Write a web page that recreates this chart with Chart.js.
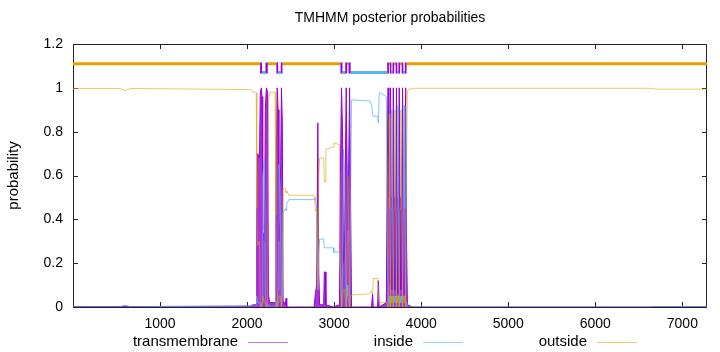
<!DOCTYPE html>
<html>
<head>
<meta charset="utf-8">
<script src="https://cdn.jsdelivr.net/npm/chart.js@4.4.1/dist/chart.umd.min.js"></script>
<style>
  html, body { margin: 0; padding: 0; background: #fff; }
  #wrap { width: 720px; height: 352px; }
</style>
</head>
<body>
<div id="wrap"><canvas id="ctx" width="720" height="352"></canvas></div>
<script>
// posterior probabilities (residue position -> prob)
const residue = [
  1, 540, 600, 660, 2040, 2052, 2105, 2112, 2122, 2143,
  2152, 2165, 2172, 2180, 2200, 2210, 2222, 2236, 2246, 2258,
  2322, 2332, 2346, 2357, 2366, 2380, 2395, 2405, 2414, 2440,
  2448, 2456, 2480, 2770, 2785, 2800, 2813, 2824, 2834, 2880,
  2888, 2898, 2906, 2990, 2998, 3062, 3072, 3085, 3097, 3108,
  3120, 3139, 3150, 3158, 3178, 3190, 3200, 3410, 3430, 3442,
  3450, 3500, 3508, 3518, 3600, 3610, 3620, 3629, 3634, 3640,
  3648, 3656, 3664, 3672, 3680, 3689, 3698, 3707, 3716, 3724,
  3732, 3740, 3748, 3757, 3767, 3776, 3786, 3795, 3804, 3812,
  3822, 3832, 3842, 3900, 6640, 6700, 7283
];
const transmembrane = [
  0.002, 0.002, 0.004, 0.002, 0.004, 0.008, 0.012, 0.50, 0.70, 0.68,
  0.98, 1.00, 0.96, 0.35, 0.30, 0.90, 1.00, 0.98, 0.06, 0.02,
  0.02, 0.55, 1.00, 0.90, 0.30, 0.40, 1.00, 0.85, 0.03, 0.01,
  0.04, 0.00, 0.00, 0.00, 0.06, 0.10, 0.84, 0.15, 0.01, 0.01,
  0.16, 0.16, 0.01, 0.00, 0.00, 0.01, 0.60, 1.00, 0.80, 0.20,
  0.30, 1.00, 0.60, 0.35, 1.00, 0.45, 0.00, 0.00, 0.00, 0.06,
  0.00, 0.00, 0.12, 0.00, 0.02, 0.60, 1.00, 0.50, 0.10, 0.50,
  1.00, 0.50, 0.08, 0.50, 1.00, 0.50, 0.08, 0.50, 1.00, 0.50,
  0.06, 0.50, 1.00, 0.50, 0.08, 0.50, 1.00, 0.50, 0.06, 0.50,
  1.00, 0.30, 0.01, 0.00, 0.00, 0.002, 0.002
];
const inside = [
  0.001, 0.001, 0.008, 0.001, 0.004, 0.008, 0.010, 0.05, 0.02, 0.02,
  0.01, 0.00, 0.02, 0.60, 0.68, 0.08, 0.00, 0.01, 0.01, 0.00,
  0.00, 0.03, 0.00, 0.08, 0.65, 0.55, 0.00, 0.05, 0.43, 0.45,
  0.44, 0.47, 0.49, 0.49, 0.50, 0.45, 0.08, 0.25, 0.31, 0.31,
  0.27, 0.27, 0.27, 0.27, 0.25, 0.25, 0.15, 0.00, 0.15, 0.72,
  0.62, 0.00, 0.10, 0.05, 0.00, 0.50, 0.945, 0.94, 0.925, 0.88,
  0.87, 0.87, 0.84, 0.98, 0.96, 0.38, 0.00, 0.05, 0.02, 0.05,
  0.00, 0.45, 0.90, 0.45, 0.00, 0.05, 0.02, 0.05, 0.00, 0.45,
  0.92, 0.45, 0.00, 0.05, 0.02, 0.05, 0.00, 0.45, 0.92, 0.45,
  0.00, 0.02, 0.00, 0.00, 0.00, 0.002, 0.002
];
const outside = [
  0.997, 0.997, 0.988, 0.997, 0.992, 0.984, 0.978, 0.45, 0.28, 0.30,
  0.01, 0.00, 0.02, 0.05, 0.02, 0.02, 0.00, 0.01, 0.93, 0.98,
  0.98, 0.42, 0.00, 0.02, 0.05, 0.05, 0.00, 0.10, 0.54, 0.54,
  0.52, 0.53, 0.51, 0.51, 0.44, 0.45, 0.08, 0.60, 0.68, 0.68,
  0.57, 0.57, 0.72, 0.73, 0.75, 0.74, 0.25, 0.00, 0.05, 0.08,
  0.08, 0.00, 0.30, 0.60, 0.00, 0.05, 0.055, 0.06, 0.075, 0.06,
  0.13, 0.13, 0.04, 0.02, 0.02, 0.02, 0.00, 0.45, 0.88, 0.45,
  0.00, 0.05, 0.02, 0.05, 0.00, 0.45, 0.90, 0.45, 0.00, 0.05,
  0.02, 0.05, 0.00, 0.45, 0.90, 0.45, 0.00, 0.05, 0.02, 0.05,
  0.00, 0.68, 0.99, 0.998, 0.998, 0.994, 0.994
];

// predicted topology (segments)
const tmStart = [2150, 2212, 2337, 2387, 3073, 3128, 3166, 3610, 3640, 3671, 3707, 3739, 3776, 3813];
const tmEnd   = [2172, 2238, 2357, 2407, 3096, 3150, 3190, 3630, 3658, 3690, 3726, 3758, 3796, 3832];
const inStart = [2172, 2357, 3096, 3190, 3658, 3726, 3796];
const inEnd   = [2212, 2387, 3128, 3610, 3671, 3739, 3813];
const outStart = [1, 2238, 2407, 3150, 3630, 3690, 3758, 3832];
const outEnd   = [2150, 2337, 3073, 3166, 3640, 3707, 3776, 7283];

const seqLength = 7283;
const xTicks = [1000, 2000, 3000, 4000, 5000, 6000, 7000];
const yTicks = [0, 0.2, 0.4, 0.6, 0.8, 1, 1.2];

const outLevel = 1.11, inLevel = 1.07, tmLevel = 1.09;

function toPoints(vals) {
  return residue.map((r, i) => ({x: r, y: vals[i]}));
}
function segPoints(starts, ends, level) {
  const pts = [];
  starts.forEach((s, i) => {
    pts.push({x: s, y: level}, {x: ends[i], y: level}, {x: ends[i], y: null});
  });
  return pts;
}

const FONT = '"Liberation Sans", Arial, sans-serif';

const frame = {
  id: 'frame',
  beforeDatasetsDraw(chart) {
    const {ctx, chartArea: a, scales} = chart;
    ctx.save();
    ctx.strokeStyle = '#222';
    ctx.lineWidth = 1;
    ctx.strokeRect(Math.round(a.left) + 0.5, Math.round(a.top) + 0.5,
                   Math.round(a.right - a.left) - 1, Math.round(a.bottom - a.top));
    ctx.beginPath();
    xTicks.forEach(v => {
      const x = Math.round(scales.x.getPixelForValue(v)) + 0.5;
      ctx.moveTo(x, a.bottom); ctx.lineTo(x, a.bottom - 5);
      ctx.moveTo(x, a.top); ctx.lineTo(x, a.top + 5);
    });
    yTicks.forEach(v => {
      const y = Math.round(scales.y.getPixelForValue(v)) + 0.5;
      ctx.moveTo(a.left, y); ctx.lineTo(a.left + 5, y);
      ctx.moveTo(a.right, y); ctx.lineTo(a.right - 5, y);
    });
    ctx.stroke();
    ctx.restore();
  },
  afterDraw(chart) {
    const {ctx, chartArea: a} = chart;
    ctx.save();
    ctx.fillStyle = '#000';
    ctx.font = '14px ' + FONT;
    ctx.textAlign = 'center';
    ctx.textBaseline = 'middle';
    ctx.fillText('TMHMM posterior probabilities', (a.left + a.right) / 2, 18);

    ctx.font = '15px ' + FONT;
    ctx.save();
    ctx.translate(14, (a.top + a.bottom) / 2);
    ctx.rotate(-Math.PI / 2);
    ctx.fillText('probability', 0, 0);
    ctx.restore();

    // key below, gnuplot style: text then sample
    const key = [
      {label: 'transmembrane', color: 'rgba(148,0,211,0.55)', right: 238},
      {label: 'inside', color: 'rgba(86,180,233,0.6)', right: 413},
      {label: 'outside', color: 'rgba(230,159,0,0.55)', right: 587}
    ];
    ctx.textAlign = 'right';
    key.forEach(k => {
      ctx.fillStyle = '#000';
      ctx.fillText(k.label, k.right, 342);
      ctx.strokeStyle = k.color;
      ctx.lineWidth = 1;
      ctx.beginPath();
      ctx.moveTo(k.right + 10, 342.5);
      ctx.lineTo(k.right + 50, 342.5);
      ctx.stroke();
    });
    ctx.restore();
  }
};

const chart = new Chart(document.getElementById('ctx'), {
  type: 'line',
  data: {
    datasets: [
      {
        label: 'outside',
        data: toPoints(outside),
        borderColor: 'rgba(230,159,0,0.6)',
        borderWidth: 1,
        order: 1
      },
      {
        label: 'inside',
        data: toPoints(inside),
        borderColor: 'rgba(86,180,233,0.75)',
        borderWidth: 1,
        order: 2
      },
      {
        label: 'transmembrane',
        data: toPoints(transmembrane),
        borderColor: '#9400D3',
        backgroundColor: 'rgba(148,0,211,0.8)',
        borderWidth: 1,
        fill: 'origin',
        order: 3
      },
      {
        label: 'topo-out',
        data: segPoints(outStart, outEnd, outLevel),
        borderColor: '#E69F00',
        borderWidth: 3,
        borderCapStyle: 'butt',
        order: 0
      },
      {
        label: 'topo-in',
        data: segPoints(inStart, inEnd, inLevel),
        borderColor: '#56B4E9',
        borderWidth: 3,
        borderCapStyle: 'butt',
        order: 0
      },
      {
        label: 'topo-tm',
        data: segPoints(tmStart, tmEnd, tmLevel),
        borderColor: '#9400D3',
        borderWidth: 11,
        borderCapStyle: 'butt',
        order: -1
      }
    ]
  },
  options: {
    responsive: false,
    animation: false,
    devicePixelRatio: 1,
    spanGaps: false,
    elements: { point: { radius: 0 }, line: { tension: 0 } },
    layout: { padding: { top: 44, right: 13, left: 0, bottom: 0 } },
    plugins: { legend: { display: false }, tooltip: { enabled: false } },
    scales: {
      x: {
        type: 'linear',
        min: 1,
        max: seqLength,
        grid: { display: false, drawTicks: false },
        border: { display: false },
        ticks: {
          color: '#000',
          font: { size: 14, family: FONT },
          padding: 9,
          maxRotation: 0,
          callback: v => String(v)
        },
        afterBuildTicks: s => { s.ticks = xTicks.map(v => ({value: v})); },
        afterFit: s => { s.height = 45; }
      },
      y: {
        min: 0,
        max: 1.2,
        grid: { display: false, drawTicks: false },
        border: { display: false },
        ticks: {
          color: '#000',
          font: { size: 14, family: FONT },
          padding: 10,
          callback: v => String(v)
        },
        afterBuildTicks: s => { s.ticks = yTicks.map(v => ({value: v})); },
        afterFit: s => { s.width = 73; }
      }
    }
  },
  plugins: [frame]
});
</script>
</body>
</html>
